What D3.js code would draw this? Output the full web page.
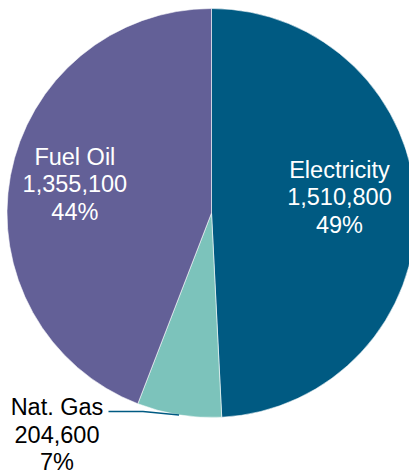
<!DOCTYPE html>
<html>
<head>
<meta charset="utf-8">
<script src="https://cdn.jsdelivr.net/npm/d3@7"></script>
<style>
  body { margin: 0; background: #fff; }
  svg { display: block; font-family: "Liberation Sans", Arial, sans-serif; }
</style>
</head>
<body>
<svg width="409" height="475"></svg>
<script>
// data
var categories = ["Electricity", "Nat. Gas", "Fuel Oil"];
var values = [1510800, 204600, 1355100];
var percents = ["49%", "7%", "44%"];
var colors = ["#005a82", "#7cc3bb", "#636097"];

var svg = d3.select("svg");
var cx = 211.5, cy = 213, r = 204.5;

var rows = categories.map(function(c, i){ return {name: c, val: values[i], pct: percents[i], color: colors[i]}; });

var pie = d3.pie().sort(null).value(d => d.val);
var arcs = pie(rows);
var arc = d3.arc().innerRadius(0).outerRadius(r);
var fmt = d3.format(",");

var g = svg.append("g").attr("transform", "translate(" + cx + "," + cy + ")");

g.selectAll("path")
  .data(arcs)
  .enter()
  .append("path")
  .attr("d", arc)
  .attr("fill", d => d.data.color)
  .attr("stroke", "#ffffff")
  .attr("stroke-width", 0.8)
  .attr("stroke-opacity", 0.7);

var lineH = 27.5;
function polar(a, rad){ return [rad * Math.sin(a), -rad * Math.cos(a)]; }

arcs.forEach(function(d, i){
  var mid = (d.startAngle + d.endAngle) / 2;
  var lines = [d.data.name, fmt(d.data.val), d.data.pct];
  var x, y, fill;
  if (d.data.name == "Nat. Gas") {
    // outside label with leader line
    var edge = polar(mid, r);
    x = -154.5;
    g.append("polyline")
      .attr("points", [[x + 51.5, 198.5], [x + 86, 198.5], edge].map(p => p.join(",")).join(" "))
      .attr("fill", "none")
      .attr("stroke", "#005a82")
      .attr("stroke-width", 1.5);
    y = 221.5;
    fill = "#000";
  } else {
    var rl = d.data.name == "Electricity" ? 128 : 139;
    var p = polar(mid, rl);
    x = p[0]; y = p[1] - (d.data.name == "Electricity" ? 12.5 : 3.5);
    fill = "#fff";
  }
  var t = g.append("text")
    .attr("x", x)
    .attr("y", y)
    .attr("text-anchor", "middle")
    .attr("font-size", 23.5)
    .attr("fill", fill);
  lines.forEach(function(s, k){
    t.append("tspan")
      .attr("x", x)
      .attr("y", y + (k - 1) * lineH + 8)
      .text(s);
  });
});
</script>
</body>
</html>
